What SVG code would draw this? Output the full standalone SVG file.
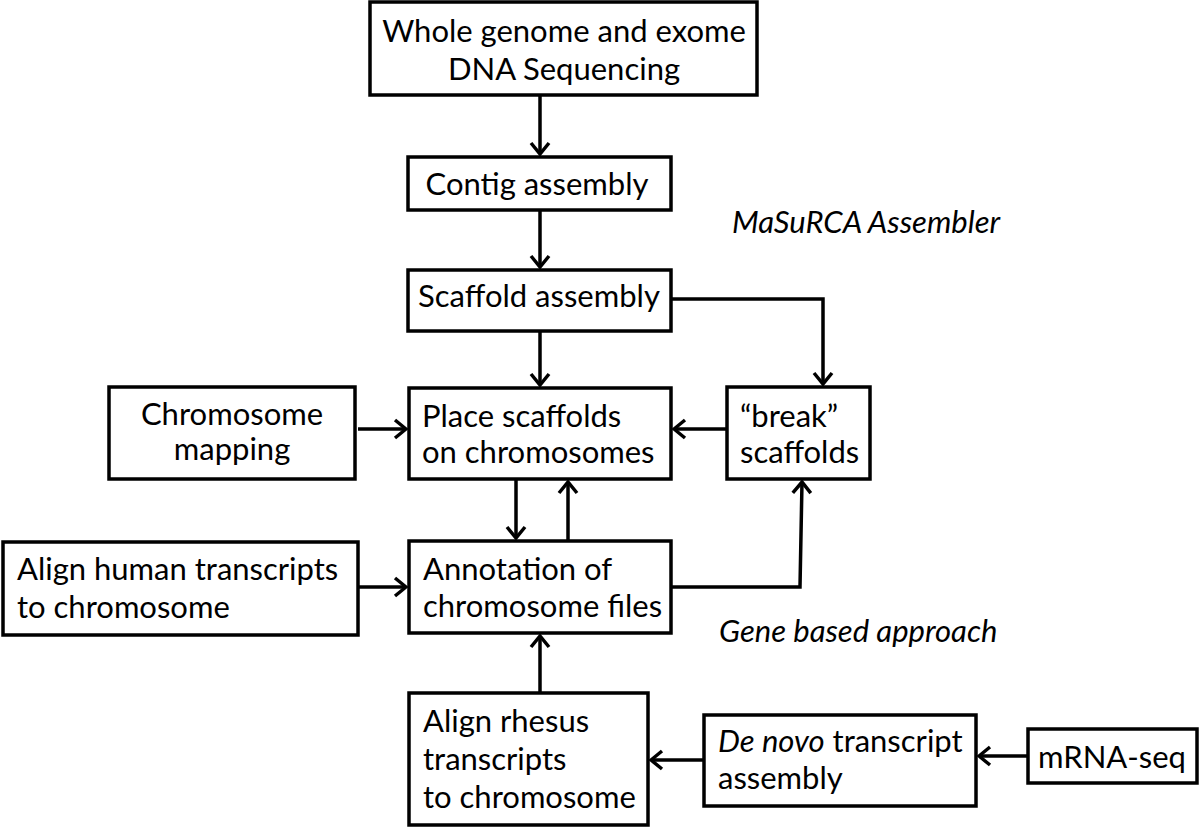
<svg xmlns="http://www.w3.org/2000/svg" width="1200" height="828" viewBox="0 0 1200 828">
<defs>
<style>
.box{fill:#fff;stroke:#000;stroke-width:3.5}
.t{font-family:Lato,"Open Sans","Liberation Sans",sans-serif;font-size:31px;fill:#000}
.c{text-anchor:middle}
.i{font-style:italic}
.ln{fill:none;stroke:#000;stroke-width:3.5}
</style>
<marker id="ah" viewBox="-14 -11 16 22" refX="0" refY="0" markerWidth="16" markerHeight="22" markerUnits="userSpaceOnUse" orient="auto">
<path d="M-11,-9 L0,0 L-11,9" fill="none" stroke="#000" stroke-width="3.5"/>
</marker>
</defs>
<rect width="1200" height="828" fill="#fff"/>
<g id="connectors">
<line class="ln" x1="540" y1="95" x2="540" y2="154" marker-end="url(#ah)"/>
<line class="ln" x1="540" y1="210" x2="540" y2="267" marker-end="url(#ah)"/>
<line class="ln" x1="540" y1="331" x2="540" y2="385" marker-end="url(#ah)"/>
<polyline class="ln" points="671,299 823,299 823,384" marker-end="url(#ah)"/>
<line class="ln" x1="358" y1="429" x2="406" y2="429" marker-end="url(#ah)"/>
<line class="ln" x1="727" y1="429" x2="674" y2="429" marker-end="url(#ah)"/>
<line class="ln" x1="516" y1="479" x2="516" y2="538" marker-end="url(#ah)"/>
<line class="ln" x1="568" y1="541" x2="568" y2="482" marker-end="url(#ah)"/>
<line class="ln" x1="358" y1="587" x2="406" y2="587" marker-end="url(#ah)"/>
<polyline class="ln" points="671,587 800,587 802,482" marker-end="url(#ah)"/>
<line class="ln" x1="540" y1="693" x2="540" y2="636" marker-end="url(#ah)"/>
<line class="ln" x1="704" y1="760" x2="651" y2="760" marker-end="url(#ah)"/>
<line class="ln" x1="1028" y1="756" x2="979" y2="756" marker-end="url(#ah)"/>
</g>
<g id="n-wgs">
<rect class="box" x="370" y="2" width="387" height="93"/>
<text class="t c" x="564" y="42">Whole genome and exome</text>
<text class="t c" x="564" y="80">DNA Sequencing</text>
</g>
<g id="n-contig">
<rect class="box" x="408" y="157" width="263" height="53"/>
<text class="t c" x="537" y="195">Contig assembly</text>
</g>
<g id="n-scaffold">
<rect class="box" x="408" y="270" width="263" height="61"/>
<text class="t c" x="539" y="307">Scaffold assembly</text>
</g>
<g id="l-masurca">
<text class="t i" x="732" y="233">MaSuRCA Assembler</text>
</g>
<g id="n-chrmap">
<rect class="box" x="109" y="387" width="246" height="92"/>
<text class="t c" x="232" y="425">Chromosome</text>
<text class="t c" x="232" y="460">mapping</text>
</g>
<g id="n-place">
<rect class="box" x="409" y="388" width="262" height="91"/>
<text class="t" x="422" y="427">Place scaffolds</text>
<text class="t" x="422" y="463">on chromosomes</text>
</g>
<g id="n-break">
<rect class="box" x="727" y="387" width="143" height="92"/>
<text class="t" x="740" y="427">“break”</text>
<text class="t" x="740" y="463">scaffolds</text>
</g>
<g id="n-human">
<rect class="box" x="3" y="542" width="355" height="93"/>
<text class="t" x="17" y="580">Align human transcripts</text>
<text class="t" x="17" y="618">to chromosome</text>
</g>
<g id="n-annot">
<rect class="box" x="409" y="541" width="262" height="92"/>
<text class="t" x="423" y="580">Annotation of</text>
<text class="t" x="423" y="617">chromosome files</text>
</g>
<g id="l-gene">
<text class="t i" x="719" y="642">Gene based approach</text>
</g>
<g id="n-rhesus">
<rect class="box" x="409" y="693" width="239" height="132"/>
<text class="t" x="423" y="732">Align rhesus</text>
<text class="t" x="423" y="770">transcripts</text>
<text class="t" x="423" y="808">to chromosome</text>
</g>
<g id="n-denovo">
<rect class="box" x="704" y="715" width="272" height="91"/>
<text class="t" x="718" y="752"><tspan class="i">De novo</tspan> transcript</text>
<text class="t" x="718" y="789">assembly</text>
</g>
<g id="n-mrna">
<rect class="box" x="1028" y="729" width="169" height="54"/>
<text class="t c" x="1112" y="768">mRNA-seq</text>
</g>
</svg>
